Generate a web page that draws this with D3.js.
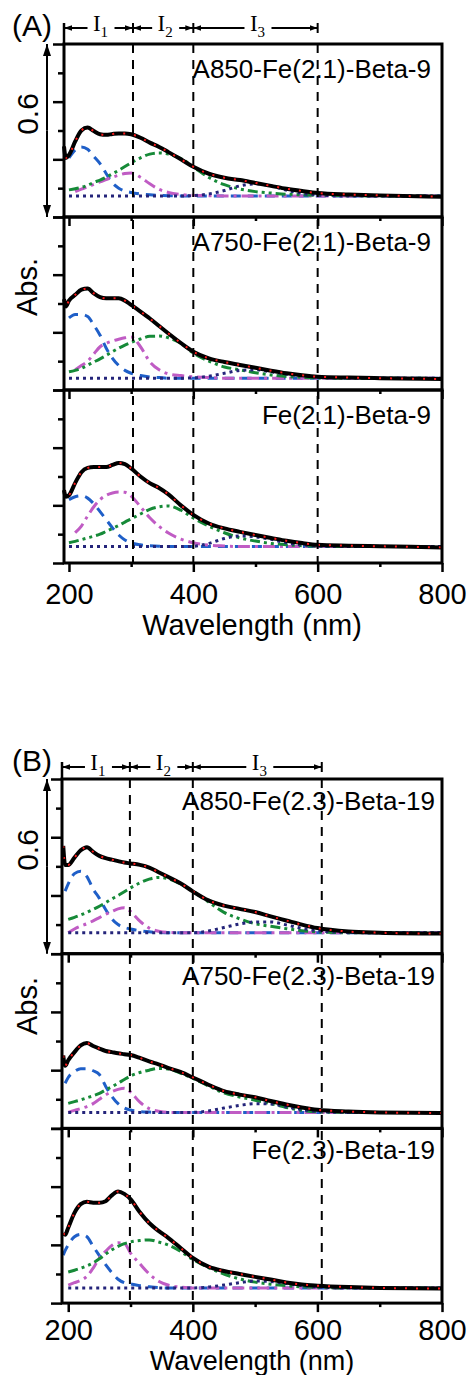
<!DOCTYPE html>
<html lang="en">
<head>
<meta charset="UTF-8">
<title>UV-vis deconvolution</title>
<script src="https://d3js.org/d3.v7.min.js"></script>
<style>
  body { margin: 0; background: #fff; }
  svg { display: block; }
  .axis path, .axis line { stroke: #000; stroke-width: 2.5; fill: none; }
  .axis text { font: 29px "Liberation Sans", Arial, sans-serif; fill: #000; }
  .lbl { font-family: "Liberation Sans", Arial, sans-serif; fill: #000; }
  .itv { font-family: "Liberation Serif", "Times New Roman", serif; fill: #000; }
</style>
</head>
<body>
<script>
// shared wavelength grid (nm)
var wl = [192, 195, 200, 210, 220, 230, 240, 250, 260, 270,
          280, 290, 300, 315, 330, 345, 360, 380, 400, 425,
          450, 475, 500, 525, 550, 575, 600, 650, 700, 800];

// (A) top: A850-Fe(2.1)-Beta-9
var a850_21_abs = [0.245, 0.205, 0.215, 0.262, 0.300, 0.310, 0.298, 0.287, 0.285, 0.288,
                   0.290, 0.290, 0.287, 0.275, 0.258, 0.243, 0.225, 0.200, 0.174, 0.150,
                   0.136, 0.128, 0.118, 0.108, 0.098, 0.090, 0.083, 0.078, 0.075, 0.070];
var a850_21_p1 = [null, null, 0.205, 0.232, 0.243, 0.235, 0.210, 0.185, 0.150, 0.118,
                  0.100, 0.090, 0.085, 0.080, 0.077, 0.075, 0.074, 0.073, 0.073, 0.073,
                  0.073, 0.073, 0.073, 0.073, 0.073, 0.073, 0.073, 0.073, 0.073, 0.073];
var a850_21_p2 = [null, null, null, 0.088, 0.097, 0.105, 0.113, 0.122, 0.130, 0.138,
                  0.145, 0.151, 0.153, 0.138, 0.115, 0.096, 0.085, 0.078, 0.075, 0.074,
                  0.073, 0.073, 0.073, 0.073, 0.073, 0.073, 0.073, 0.073, 0.073, 0.073];
var a850_21_p3 = [null, null, 0.094, 0.098, 0.103, 0.110, 0.120, 0.128, 0.138, 0.150,
                  0.162, 0.175, 0.188, 0.205, 0.218, 0.222, 0.218, 0.203, 0.174, 0.137,
                  0.112, 0.097, 0.088, 0.083, 0.079, 0.077, 0.075, 0.074, 0.073, 0.073];
var a850_21_p4 = [null, null, 0.073, 0.073, 0.073, 0.073, 0.073, 0.073, 0.073, 0.073,
                  0.073, 0.073, 0.073, 0.073, 0.073, 0.073, 0.073, 0.073, 0.074, 0.080,
                  0.092, 0.108, 0.115, 0.108, 0.093, 0.082, 0.076, 0.073, 0.073, 0.073];

// (A) middle: A750-Fe(2.1)-Beta-9
var a750_21_abs = [0.315, 0.290, 0.310, 0.330, 0.348, 0.352, 0.335, 0.322, 0.318, 0.318,
                   0.318, 0.310, 0.295, 0.272, 0.248, 0.222, 0.196, 0.163, 0.133, 0.110,
                   0.097, 0.087, 0.077, 0.067, 0.058, 0.051, 0.046, 0.043, 0.041, 0.038];
var a750_21_p1 = [null, null, 0.250, 0.262, 0.262, 0.255, 0.225, 0.190, 0.145, 0.110,
                  0.085, 0.068, 0.058, 0.050, 0.045, 0.043, 0.041, 0.041, 0.041, 0.041,
                  0.041, 0.041, 0.041, 0.041, 0.041, 0.041, 0.041, 0.041, 0.041, 0.041];
var a750_21_p2 = [null, null, null, 0.070, 0.085, 0.100, 0.125, 0.150, 0.162, 0.170,
                  0.176, 0.181, 0.184, 0.150, 0.098, 0.070, 0.056, 0.050, 0.046, 0.043,
                  0.041, 0.041, 0.041, 0.041, 0.041, 0.041, 0.041, 0.041, 0.041, 0.041];
var a750_21_p3 = [null, null, 0.063, 0.068, 0.075, 0.086, 0.097, 0.108, 0.120, 0.133,
                  0.145, 0.156, 0.165, 0.177, 0.186, 0.187, 0.181, 0.162, 0.128, 0.100,
                  0.080, 0.070, 0.060, 0.052, 0.047, 0.044, 0.042, 0.041, 0.041, 0.040];
var a750_21_p4 = [null, null, 0.041, 0.041, 0.041, 0.041, 0.041, 0.041, 0.041, 0.041,
                  0.041, 0.041, 0.041, 0.041, 0.041, 0.041, 0.041, 0.041, 0.042, 0.048,
                  0.058, 0.068, 0.070, 0.063, 0.055, 0.049, 0.045, 0.042, 0.041, 0.041];

// (A) bottom: Fe(2.1)-Beta-9
var fe21_abs = [0.253, 0.230, 0.235, 0.278, 0.315, 0.330, 0.333, 0.333, 0.333, 0.340,
                0.347, 0.343, 0.328, 0.300, 0.277, 0.260, 0.238, 0.200, 0.167, 0.137,
                0.120, 0.108, 0.097, 0.087, 0.077, 0.069, 0.063, 0.060, 0.058, 0.054];
var fe21_p1 = [null, null, 0.220, 0.230, 0.233, 0.225, 0.205, 0.178, 0.150, 0.122,
               0.097, 0.080, 0.070, 0.063, 0.060, 0.058, 0.057, 0.057, 0.057, 0.057,
               0.057, 0.057, 0.057, 0.057, 0.057, 0.057, 0.057, 0.057, 0.057, 0.057];
var fe21_p2 = [null, null, null, 0.105, 0.128, 0.163, 0.195, 0.220, 0.235, 0.243,
               0.246, 0.245, 0.232, 0.195, 0.157, 0.127, 0.104, 0.083, 0.070, 0.062,
               0.059, 0.057, 0.057, 0.057, 0.057, 0.057, 0.057, 0.057, 0.057, 0.057];
var fe21_p3 = [null, null, 0.070, 0.075, 0.081, 0.087, 0.093, 0.100, 0.110, 0.120,
               0.130, 0.142, 0.153, 0.170, 0.186, 0.195, 0.198, 0.183, 0.156, 0.128,
               0.105, 0.087, 0.076, 0.068, 0.063, 0.060, 0.058, 0.057, 0.057, 0.057];
var fe21_p4 = [null, null, 0.057, 0.057, 0.057, 0.057, 0.057, 0.057, 0.057, 0.057,
               0.057, 0.057, 0.057, 0.057, 0.057, 0.057, 0.057, 0.057, 0.058, 0.068,
               0.085, 0.094, 0.091, 0.082, 0.070, 0.063, 0.059, 0.057, 0.057, 0.057];

// (B) top: A850-Fe(2.3)-Beta-19
var a850_23_abs = [0.370, 0.305, 0.305, 0.330, 0.355, 0.366, 0.350, 0.336, 0.328, 0.323,
                   0.318, 0.313, 0.310, 0.305, 0.296, 0.280, 0.264, 0.242, 0.214, 0.183,
                   0.165, 0.154, 0.143, 0.128, 0.114, 0.100, 0.088, 0.076, 0.072, 0.069];
var a850_23_p1 = [null, 0.215, 0.240, 0.275, 0.283, 0.265, 0.222, 0.190, 0.152, 0.120,
                  0.100, 0.090, 0.085, 0.079, 0.075, 0.073, 0.072, 0.072, 0.072, 0.072,
                  0.072, 0.072, 0.072, 0.072, 0.072, 0.072, 0.072, 0.072, 0.072, 0.072];
var a850_23_p2 = [null, null, 0.072, 0.085, 0.095, 0.103, 0.113, 0.124, 0.135, 0.145,
                  0.154, 0.158, 0.145, 0.112, 0.088, 0.077, 0.073, 0.072, 0.072, 0.072,
                  0.072, 0.072, 0.072, 0.072, 0.072, 0.072, 0.072, 0.072, 0.072, 0.072];
var a850_23_p3 = [null, null, 0.118, 0.125, 0.133, 0.142, 0.152, 0.163, 0.175, 0.188,
                  0.200, 0.213, 0.226, 0.243, 0.256, 0.262, 0.258, 0.240, 0.215, 0.178,
                  0.142, 0.120, 0.103, 0.094, 0.086, 0.079, 0.075, 0.072, 0.072, 0.072];
var a850_23_p4 = [null, null, 0.072, 0.072, 0.072, 0.072, 0.072, 0.072, 0.072, 0.072,
                  0.072, 0.072, 0.072, 0.072, 0.072, 0.072, 0.072, 0.072, 0.072, 0.078,
                  0.090, 0.102, 0.109, 0.109, 0.099, 0.087, 0.079, 0.073, 0.072, 0.072];

// (B) middle: A750-Fe(2.3)-Beta-19
var a750_23_abs = [0.250, 0.215, 0.234, 0.262, 0.285, 0.293, 0.283, 0.274, 0.266, 0.262,
                   0.258, 0.255, 0.252, 0.242, 0.230, 0.220, 0.208, 0.194, 0.175, 0.150,
                   0.128, 0.116, 0.107, 0.094, 0.082, 0.072, 0.064, 0.058, 0.055, 0.053];
var a750_23_p1 = [null, 0.155, 0.175, 0.195, 0.205, 0.205, 0.198, 0.185, 0.145, 0.110,
                  0.085, 0.070, 0.063, 0.058, 0.056, 0.055, 0.055, 0.055, 0.055, 0.055,
                  0.055, 0.055, 0.055, 0.055, 0.055, 0.055, 0.055, 0.055, 0.055, 0.055];
var a750_23_p2 = [null, null, 0.055, 0.062, 0.068, 0.075, 0.085, 0.100, 0.115, 0.126,
                  0.134, 0.138, 0.125, 0.090, 0.068, 0.059, 0.055, 0.055, 0.055, 0.055,
                  0.055, 0.055, 0.055, 0.055, 0.055, 0.055, 0.055, 0.055, 0.055, 0.055];
var a750_23_p3 = [null, null, 0.086, 0.092, 0.098, 0.105, 0.112, 0.120, 0.132, 0.143,
                  0.155, 0.168, 0.180, 0.192, 0.200, 0.206, 0.204, 0.190, 0.172, 0.146,
                  0.122, 0.108, 0.097, 0.085, 0.072, 0.062, 0.057, 0.055, 0.055, 0.055];
var a750_23_p4 = [null, null, 0.055, 0.055, 0.055, 0.055, 0.055, 0.055, 0.055, 0.055,
                  0.055, 0.055, 0.055, 0.055, 0.055, 0.055, 0.055, 0.055, 0.055, 0.060,
                  0.070, 0.079, 0.085, 0.084, 0.074, 0.064, 0.058, 0.055, 0.055, 0.055];

// (B) bottom: Fe(2.3)-Beta-19
var fe23_abs = [0.240, 0.235, 0.259, 0.310, 0.340, 0.348, 0.345, 0.345, 0.350, 0.370,
                0.383, 0.375, 0.357, 0.312, 0.275, 0.248, 0.225, 0.190, 0.155, 0.125,
                0.110, 0.100, 0.090, 0.081, 0.071, 0.064, 0.060, 0.055, 0.052, 0.050];
var fe23_p1 = [0.165, 0.180, 0.200, 0.228, 0.236, 0.228, 0.195, 0.163, 0.132, 0.105,
               0.082, 0.070, 0.066, 0.060, 0.056, 0.053, 0.052, 0.052, 0.052, 0.052,
               0.052, 0.052, 0.052, 0.052, 0.052, 0.052, 0.052, 0.052, 0.052, 0.052];
var fe23_p2 = [null, null, 0.062, 0.070, 0.078, 0.092, 0.120, 0.155, 0.178, 0.198,
               0.207, 0.205, 0.172, 0.135, 0.100, 0.075, 0.062, 0.055, 0.052, 0.052,
               0.052, 0.052, 0.052, 0.052, 0.052, 0.052, 0.052, 0.052, 0.052, 0.052];
var fe23_p3 = [null, null, 0.107, 0.113, 0.120, 0.128, 0.138, 0.152, 0.168, 0.183,
               0.195, 0.204, 0.210, 0.215, 0.217, 0.210, 0.200, 0.178, 0.150, 0.122,
               0.100, 0.083, 0.072, 0.065, 0.060, 0.056, 0.054, 0.052, 0.052, 0.052];
var fe23_p4 = [null, null, 0.052, 0.052, 0.052, 0.052, 0.052, 0.052, 0.052, 0.052,
               0.052, 0.052, 0.052, 0.052, 0.052, 0.052, 0.052, 0.052, 0.052, 0.055,
               0.062, 0.070, 0.076, 0.074, 0.067, 0.060, 0.055, 0.052, 0.052, 0.052];

var labelsA = ["A850-Fe(2.1)-Beta-9", "A750-Fe(2.1)-Beta-9", "Fe(2.1)-Beta-9"];
var labelsB = ["A850-Fe(2.3)-Beta-19", "A750-Fe(2.3)-Beta-19", "Fe(2.3)-Beta-19"];
var dashA = [303, 400, 600];   // interval borders, nm
var dashB = [299, 400, 607];
var intervalNums = ["1", "2", "3"];
var xMajor = [200, 400, 600, 800], xMinor = [300, 500, 700];
var yMajor = [0, 0.2, 0.4, 0.6], yMinor = [0.1, 0.3, 0.5];

// component line styles: blue dash, magenta dash-dot, green dash-dot-dot, navy dot
var partStyles = [
    {color: "#1f5fc8", dash: "10,7"},
    {color: "#c05cc4", dash: "12,5,3,5"},
    {color: "#168a38", dash: "10,4,3,4,3,4"},
    {color: "#24247a", dash: "3,4"}
];

var panels = [
    {tag: "(A)", top: 44, rowH: 173, left: 64, xMin: 192, arrowY: 28, dashes: dashA,
     labelX: 431, labelDy: 34, scaleY: 114, absY: 287,
     tickPad: 11, xTitleY: 635, xTitleSize: 29,
     rows: [
         {label: labelsA[0], abs: a850_21_abs, parts: [a850_21_p1, a850_21_p2, a850_21_p3, a850_21_p4]},
         {label: labelsA[1], abs: a750_21_abs, parts: [a750_21_p1, a750_21_p2, a750_21_p3, a750_21_p4]},
         {label: labelsA[2], abs: fe21_abs, parts: [fe21_p1, fe21_p2, fe21_p3, fe21_p4]}
     ]},
    {tag: "(B)", top: 779, rowH: 174.7, left: 62, xMin: 190, arrowY: 767, dashes: dashB,
     labelX: 435, labelDy: 31, scaleY: 850, absY: 1006,
     tickPad: 7, xTitleY: 1370, xTitleSize: 27,
     rows: [
         {label: labelsB[0], abs: a850_23_abs, parts: [a850_23_p1, a850_23_p2, a850_23_p3, a850_23_p4]},
         {label: labelsB[1], abs: a750_23_abs, parts: [a750_23_p1, a750_23_p2, a750_23_p3, a750_23_p4]},
         {label: labelsB[2], abs: fe23_abs, parts: [fe23_p1, fe23_p2, fe23_p3, fe23_p4]}
     ]}
];

var svg = d3.select("body").append("svg")
    .attr("width", 470)
    .attr("height", 1375);

var defs = svg.append("defs");
defs.append("marker").attr("id", "head")
    .attr("viewBox", "0 -5 10 10").attr("refX", 10).attr("refY", 0)
    .attr("markerWidth", 8).attr("markerHeight", 8)
    .attr("markerUnits", "userSpaceOnUse").attr("orient", "auto")
    .append("path").attr("d", "M0,-3.5L10,0L0,3.5Z").attr("fill", "#000");
defs.append("marker").attr("id", "bighead")
    .attr("viewBox", "0 -5 12 10").attr("refX", 12).attr("refY", 0)
    .attr("markerWidth", 12).attr("markerHeight", 10)
    .attr("markerUnits", "userSpaceOnUse").attr("orient", "auto")
    .append("path").attr("d", "M0,-4L12,0L0,4Z").attr("fill", "#000");

panels.forEach(function(p) {
    var x = d3.scaleLinear().domain([p.xMin, 800]).range([p.left, 442]);
    var g = svg.append("g");
    var bottom = p.top + 3 * p.rowH;

    p.rows.forEach(function(r, i) {
        var y = d3.scaleLinear().domain([0, 0.6])
            .range([p.top + (i + 1) * p.rowH, p.top + i * p.rowH]);
        var line = d3.line()
            .defined(function(d) { return d[1] != null; })
            .x(function(d) { return x(d[0]); })
            .y(function(d) { return y(d[1]); })
            .curve(d3.curveMonotoneX);

        // sample name (dashed guides are drawn over it later)
        g.append("text").attr("class", "lbl")
            .attr("x", p.labelX).attr("y", p.top + i * p.rowH + p.labelDy)
            .attr("text-anchor", "end").style("font-size", "26px")
            .text(r.label);

        r.parts.forEach(function(vals, k) {
            g.append("path")
                .datum(d3.zip(wl, vals))
                .attr("d", line)
                .attr("fill", "none")
                .attr("stroke", partStyles[k].color)
                .attr("stroke-width", 3)
                .attr("stroke-dasharray", partStyles[k].dash);
        });

        var pts = d3.zip(wl, r.abs);
        g.append("path").datum(pts).attr("d", line)
            .attr("fill", "none").attr("stroke", "#000").attr("stroke-width", 4);
        g.append("path").datum(pts).attr("d", line)
            .attr("fill", "none").attr("stroke", "#ff1a1a").attr("stroke-width", 2)
            .attr("stroke-dasharray", "2,9");

        // axes
        var yl = g.append("g").attr("class", "axis").attr("transform", "translate(" + p.left + ",0)");
        yl.call(d3.axisLeft(y).tickValues(yMajor).tickSize(11).tickFormat(""));
        yl.select(".domain").remove();
        var ym = g.append("g").attr("class", "axis").attr("transform", "translate(" + p.left + ",0)");
        ym.call(d3.axisLeft(y).tickValues(yMinor).tickSize(6).tickFormat(""));
        ym.select(".domain").remove();

        var yb = p.top + (i + 1) * p.rowH;
        var xa = g.append("g").attr("class", "axis").attr("transform", "translate(0," + yb + ")");
        xa.call(d3.axisBottom(x).tickValues(xMajor).tickSize(9).tickPadding(p.tickPad)
            .tickFormat(i === 2 ? d3.format("d") : ""));
        xa.select(".domain").remove();
        var xm = g.append("g").attr("class", "axis").attr("transform", "translate(0," + yb + ")");
        xm.call(d3.axisBottom(x).tickValues(xMinor).tickSize(4).tickFormat(""));
        xm.select(".domain").remove();
    });

    // interval guides
    g.selectAll(".guide").data(p.dashes).enter().append("line")
        .attr("x1", function(d) { return x(d); }).attr("x2", function(d) { return x(d); })
        .attr("y1", p.top).attr("y2", bottom)
        .attr("stroke", "#000").attr("stroke-width", 2).attr("stroke-dasharray", "9,7");

    // frames
    p.rows.forEach(function(r, i) {
        g.append("rect")
            .attr("x", p.left).attr("y", p.top + i * p.rowH)
            .attr("width", 442 - p.left).attr("height", p.rowH)
            .attr("fill", "none").attr("stroke", "#000").attr("stroke-width", 3);
    });

    // interval arrows I1, I2, I3
    var edges = [p.xMin].concat(p.dashes);
    var ay = p.arrowY;
    intervalNums.forEach(function(n, k) {
        var a = x(edges[k]), b = x(edges[k + 1]);
        var mid = (a + b) / 2 + 2;
        g.append("line").attr("x1", mid - 13).attr("x2", a).attr("y1", ay).attr("y2", ay)
            .attr("stroke", "#000").attr("stroke-width", 2).attr("marker-end", "url(#head)");
        g.append("line").attr("x1", mid + 14).attr("x2", b).attr("y1", ay).attr("y2", ay)
            .attr("stroke", "#000").attr("stroke-width", 2).attr("marker-end", "url(#head)");
        var t = g.append("text").attr("class", "itv")
            .attr("x", mid).attr("y", ay + 3).attr("text-anchor", "middle")
            .style("font-size", "23px");
        t.append("tspan").text("I");
        t.append("tspan").attr("dy", 6).style("font-size", "15px").text(n);
    });
    g.append("line").attr("x1", x(edges[0])).attr("x2", x(edges[0]))
        .attr("y1", ay - 5).attr("y2", p.top).attr("stroke", "#000").attr("stroke-width", 2.5);
    edges.slice(1).forEach(function(e) {
        g.append("line").attr("x1", x(e)).attr("x2", x(e))
            .attr("y1", ay - 5).attr("y2", ay + 5).attr("stroke", "#000").attr("stroke-width", 2);
    });

    // 0.6 scale bar with double arrow
    g.append("line").attr("x1", 47).attr("x2", 47)
        .attr("y1", p.top + p.rowH / 2).attr("y2", p.top)
        .attr("stroke", "#000").attr("stroke-width", 2).attr("marker-end", "url(#bighead)");
    g.append("line").attr("x1", 47).attr("x2", 47)
        .attr("y1", p.top + p.rowH / 2).attr("y2", p.top + p.rowH)
        .attr("stroke", "#000").attr("stroke-width", 2).attr("marker-end", "url(#bighead)");
    g.append("text").attr("class", "lbl")
        .attr("transform", "translate(38," + p.scaleY + ") rotate(-90)")
        .attr("text-anchor", "middle").style("font-size", "30px").text("0.6");
    g.append("text").attr("class", "lbl")
        .attr("transform", "translate(37," + p.absY + ") rotate(-90)")
        .attr("text-anchor", "middle").style("font-size", "29px").text("Abs.");

    g.append("text").attr("class", "lbl")
        .attr("x", 12).attr("y", p.top - 8)
        .style("font-size", "30px").text(p.tag);

    g.append("text").attr("class", "lbl")
        .attr("x", 252).attr("y", p.xTitleY).attr("text-anchor", "middle")
        .style("font-size", p.xTitleSize + "px").text("Wavelength (nm)");
});
</script>
</body>
</html>
